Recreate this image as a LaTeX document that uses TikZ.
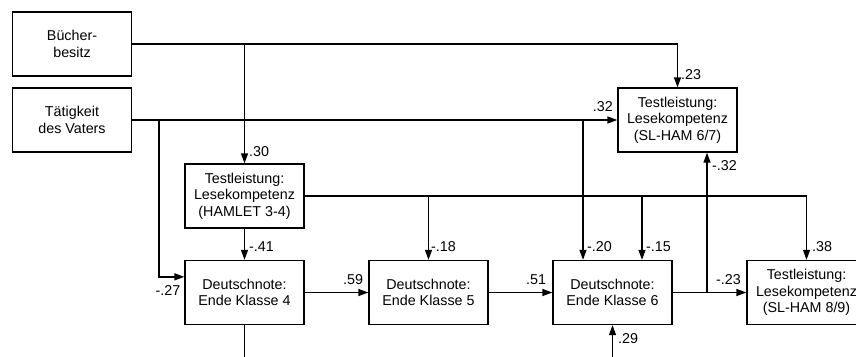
\documentclass[tikz,border=0pt]{standalone}
\usepackage{fontspec}
\setmainfont{Liberation Sans}
\usetikzlibrary{arrows.meta,calc}
\begin{document}
\begin{tikzpicture}[x=1pt,y=-1pt,
  box/.style={draw,line width=1.3pt,minimum width=119pt,minimum height=64pt,inner sep=0pt,align=center,font=\fontsize{14.3}{16.3}\selectfont},
  arr/.style={line width=1.3pt,-{Triangle[length=10pt,width=7pt]}},
  ln/.style={line width=1.3pt},
  lab/.style={inner sep=0pt,font=\fontsize{14.3}{16.3}\selectfont}]
\useasboundingbox (0,0) rectangle (856,356);
\clip (0,0) rectangle (856,356);
\node[box] (buch) at (72,44) {Bücher-\\besitz};
\node[box] (taet) at (72,120) {Tätigkeit\\des Vaters};
\node[box] (ham) at (244.5,196) {Testleistung:\\Lesekompetenz\\(HAMLET 3-4)};
\node[box] (sl67) at (677.5,120) {Testleistung:\\Lesekompetenz\\(SL-HAM 6/7)};
\node[box] (d4) at (244.5,292.5) {Deutschnote:\\Ende Klasse 4};
\node[box] (d5) at (428.5,292.5) {Deutschnote:\\Ende Klasse 5};
\node[box] (d6) at (612.5,292.5) {Deutschnote:\\Ende Klasse 6};
\node[box] (sl89) at (806.5,292.5) {Testleistung:\\Lesekompetenz\\(SL-HAM 8/9)};
\coordinate (d4in) at ($(d4.north west)+(0,17)$);
\coordinate (d6a) at ($(d6.north)+(-29.5,0)$);
\coordinate (d6b) at ($(d6.north)+(29.5,0)$);
\coordinate (s67b) at ($(sl67.south)+(29.5,0)$);
\coordinate (tj) at (159,120);
\coordinate (d4out) at (244.5,360);
\coordinate (d6src) at (612.5,360);
% Buecherbesitz
\draw[arr] (buch.east) -| (sl67.north);
\draw[arr] (ham.north |- buch.east) -- (ham.north);
% Taetigkeit
\draw[arr] (taet.east) -- (sl67.west);
\draw[arr] (tj) |- (d4in);
\draw[arr] (taet.east -| d6a) -- (d6a);
% HAMLET
\draw[arr] (ham.east) -| (sl89.north);
\draw[arr] (ham.east -| d5.north) -- (d5.north);
\draw[arr] (ham.east -| d6b) -- (d6b);
\draw[arr] (ham.south) -- (d4.north);
% Deutschnoten
\draw[arr] (d4.east) -- (d5.west);
\draw[arr] (d5.east) -- (d6.west);
\draw[arr] (d6.east) -- (sl89.west);
\draw[arr] (d6.east -| s67b) -- (s67b);
\draw[ln] (d4.south) -- (d4out);
\draw[arr] (d6src) -- (d6.south);
% labels
\node[lab,anchor=west] (l30) at (249,152) {.30};
\node[lab,anchor=west] (l23) at (681,75) {.23};
\node[lab,anchor=east] (l32) at (613,107) {.32};
\node[lab,anchor=west] (lm32) at (712,166) {-.32};
\node[lab,anchor=west] (lm41) at (249,247) {-.41};
\node[lab] (lm27) at (168,291) {-.27};
\node[lab,anchor=west] (l59) at (343,280) {.59};
\node[lab,anchor=west] (lm18) at (431,247) {-.18};
\node[lab,anchor=west] (l51) at (526,280) {.51};
\node[lab,anchor=west] (lm20) at (587,247) {-.20};
\node[lab,anchor=west] (lm15) at (646,247) {-.15};
\node[lab,anchor=west] (lm23) at (716,280) {-.23};
\node[lab,anchor=west] (l38) at (812,247) {.38};
\node[lab,anchor=west] (l29) at (618,339) {.29};
\end{tikzpicture}
\end{document}
